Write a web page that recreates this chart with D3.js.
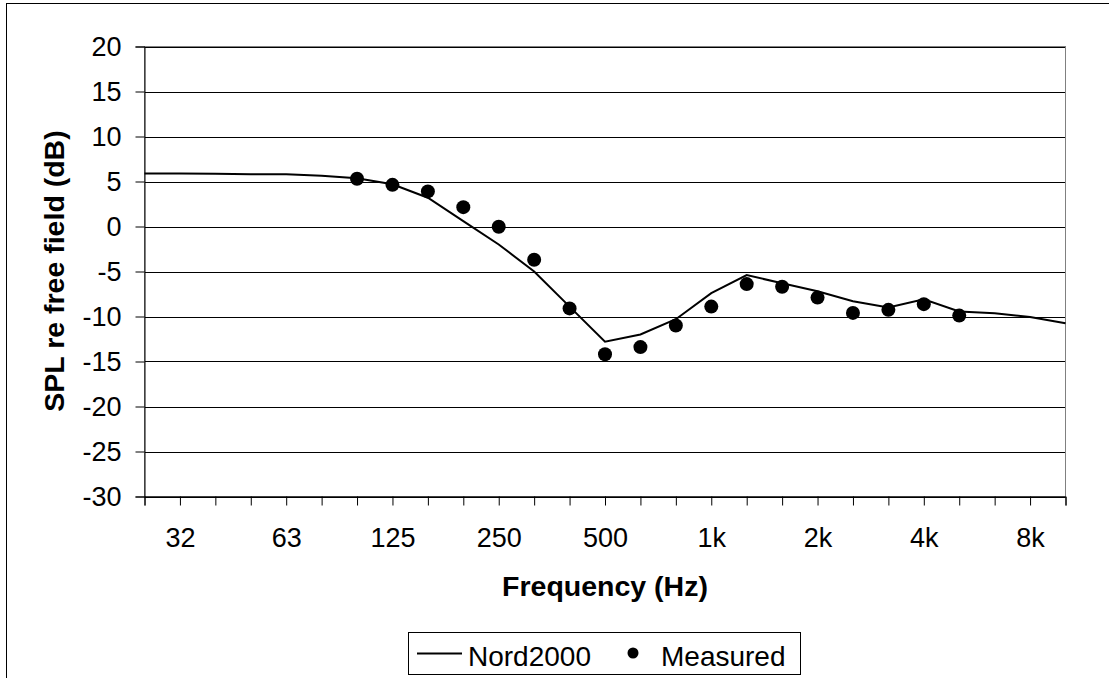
<!DOCTYPE html>
<html><head><meta charset="utf-8">
<script src="https://cdn.jsdelivr.net/npm/d3@7"></script>
<style>body{margin:0;background:#fff}svg{display:block}text{font-family:"Liberation Sans",Arial,sans-serif;fill:#000}</style>
</head><body><svg id="c" width="1109" height="678"></svg>
<script>
const bands = ["25","31.5","40","50","63","80","100","125","160","200","250","315","400","500","630","800","1000","1250","1600","2000","2500","3150","4000","5000","6300","8000","10000"];
const tickLabels = ["","32","","","63","","","125","","","250","","","500","","","1k","","","2k","","","4k","","","8k",""];
const nord2000 = [5.9,5.9,5.85,5.8,5.8,5.65,5.35,4.7,3.2,0.6,-2.0,-5.0,-8.9,-12.8,-12.0,-10.3,-7.4,-5.4,-6.3,-7.2,-8.3,-9.0,-8.1,-9.45,-9.65,-10.05,-10.75];
const measuredBands = ["100","125","160","200","250","315","400","500","630","800","1000","1250","1600","2000","2500","3150","4000","5000"];
const measured = [5.3,4.63,3.9,2.15,-0.03,-3.7,-9.1,-14.2,-13.4,-11.0,-8.9,-6.4,-6.7,-7.9,-9.6,-9.26,-8.63,-9.9];
const yTicks = [20,15,10,5,0,-5,-10,-15,-20,-25,-30];

const svg = d3.select("#c");
const L = 144.5, R = 1065.5, T = 46.5, B = 496.5;
const x = d3.scalePoint().domain(bands).range([L, R]);
const y = d3.scaleLinear().domain([-30, 20]).range([B, T]);

// outer border
svg.append("rect").attr("x",6.5).attr("y",3.5).attr("width",1120).attr("height",700)
  .attr("fill","none").attr("stroke","#000").attr("stroke-width",1);

// gridlines
svg.append("g").selectAll("line").data(yTicks).join("line")
  .attr("x1",L).attr("x2",R).attr("y1",d=>Math.round(y(d))+0.5).attr("y2",d=>Math.round(y(d))+0.5)
  .attr("stroke","#000").attr("stroke-width",1);

// plot border
svg.append("rect").attr("x",L).attr("y",T).attr("width",R-L).attr("height",B-T)
  .attr("fill","none").attr("stroke","#808080").attr("stroke-width",1);

// y axis
const ya = d3.axisLeft(y).tickValues(yTicks).tickSize(9).tickPadding(14).tickFormat(d3.format("d"));
const gy = svg.append("g").attr("transform",`translate(${L},0)`).call(ya);
gy.selectAll("text").style("font-size","27px").text(d=>d<0?"-"+Math.abs(d):d);
gy.selectAll("line,path").attr("stroke","#000");

// x axis
const xa = d3.axisBottom(x).tickSize(9).tickPadding(22).tickFormat((d,i)=>tickLabels[i]);
const gx = svg.append("g").attr("transform",`translate(0,${B})`).call(xa);
gx.selectAll("text").style("font-size","27px");
gx.selectAll("line,path").attr("stroke","#000");

// line
svg.append("path").datum(nord2000)
  .attr("d", d3.line().x((d,i)=>x(bands[i])).y(d=>y(d)))
  .attr("fill","none").attr("stroke","#000").attr("stroke-width",2);

// points
svg.append("g").selectAll("circle").data(measured).join("circle")
  .attr("cx",(d,i)=>x(measuredBands[i])).attr("cy",d=>y(d)).attr("r",7).attr("fill","#000");

// titles
svg.append("text").attr("x",605).attr("y",596).attr("text-anchor","middle")
  .style("font-size","28.5px").style("font-weight","bold").text("Frequency (Hz)");
svg.append("text").attr("transform","translate(64,271) rotate(-90)").attr("text-anchor","middle")
  .style("font-size","28.5px").style("font-weight","bold").text("SPL re free field (dB)");

// legend
const lg = svg.append("g");
lg.append("rect").attr("x",408.5).attr("y",632.5).attr("width",392).attr("height",42)
  .attr("fill","#fff").attr("stroke","#000");
lg.append("line").attr("x1",417).attr("x2",462).attr("y1",653.5).attr("y2",653.5).attr("stroke","#000").attr("stroke-width",2);
lg.append("text").attr("x",468).attr("y",666).style("font-size","28px").text("Nord2000");
lg.append("circle").attr("cx",633).attr("cy",653).attr("r",5.5).attr("fill","#000");
lg.append("text").attr("x",661).attr("y",666).style("font-size","28px").text("Measured");
</script></body></html>
